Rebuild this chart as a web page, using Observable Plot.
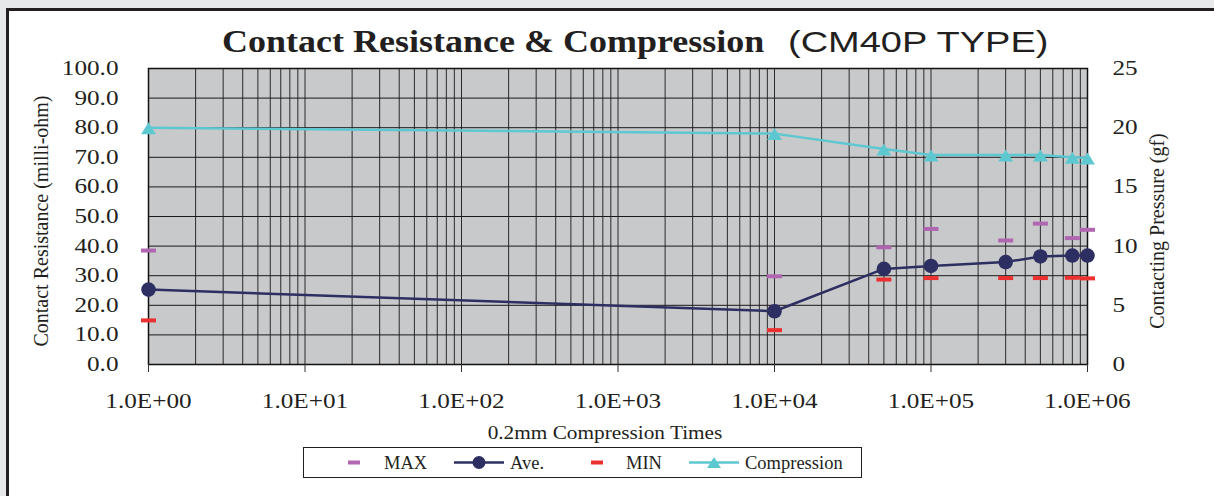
<!DOCTYPE html>
<html><head><meta charset="utf-8">
<script src="https://cdn.jsdelivr.net/npm/d3@7"></script>
<script src="https://cdn.jsdelivr.net/npm/@observablehq/plot@0.6"></script>
<style>
html,body{margin:0;padding:0;background:#e7e8e9;width:1214px;height:496px;overflow:hidden;position:relative;}
#panel{position:absolute;left:6px;top:8px;width:1220px;height:500px;background:#fff;border-left:3px solid #231f20;border-top:3px solid #231f20;}
#chart{position:absolute;left:0;top:0;}
.t{position:absolute;white-space:nowrap;color:#231f20;line-height:1;font-family:"Liberation Serif","Times New Roman",serif;}
#legend{position:absolute;left:303px;top:447px;width:557px;height:29px;border:1.5px solid #231f20;background:#fff;}
</style></head><body>
<div id="panel"></div>
<div id="chart"></div>
<div class="t" id="title1" style="left:222px;top:25px;font-size:32px;font-weight:bold;transform-origin:0 0;">Contact Resistance &amp; Compression</div>
<div class="t" id="title2" style="left:788px;top:28px;font-size:29px;font-family:'Liberation Sans',Arial,sans-serif;transform-origin:0 0;">(CM40P TYPE)</div>
<div class="t" id="ylab" style="left:41px;top:221px;font-size:20px;transform:translate(-50%,-50%) rotate(-90deg);">Contact Resistance (milli-ohm)</div>
<div class="t" id="ylab2" style="left:1157px;top:231px;font-size:20px;transform:translate(-50%,-50%) rotate(-90deg);">Contacting Pressure (gf)</div>
<div class="t" id="xlab" style="left:605px;top:423px;font-size:19px;transform:translateX(-50%) scaleX(1.12);">0.2mm Compression Times</div>
<div id="legend"></div>
<script>
// ---- data ----
const times = [1, 1e4, 5e4, 1e5, 3e5, 5e5, 8e5, 1e6];
const maxR = [38.5, 29.8, 39.6, 45.8, 41.9, 47.6, 42.7, 45.5];
const aveR = [25.3, 18.0, 32.3, 33.3, 34.6, 36.5, 36.8, 36.8];
const minR = [14.9, 11.6, 28.7, 29.2, 29.2, 29.2, 29.3, 29.1];
const compression = [20.0, 19.5, 18.2, 17.7, 17.7, 17.7, 17.5, 17.45];
const xTicks = [1, 10, 100, 1e3, 1e4, 1e5, 1e6];
const yTicksLeft = [0, 10, 20, 30, 40, 50, 60, 70, 80, 90, 100];
const yTicksRight = [0, 5, 10, 15, 20, 25];
const seriesNames = ["MAX", "Ave.", "MIN", "Compression"];
const colors = {MAX: "#b066b0", Ave: "#2d2f62", MIN: "#ec2f2f", Compression: "#5ec8d1"};

// right axis (0-25 gf) mapped onto left scale (0-100)
const rightFactor = 100 / 25;
const rows = times.map((t, i) => ({t, max: maxR[i], ave: aveR[i], min: minR[i], comp: compression[i] * rightFactor}));
const gridX = xTicks.slice(0, -1).flatMap(d => d3.range(1, 10).map(k => k * d)).concat([xTicks[xTicks.length - 1]]);

const dash = {draw(ctx) { ctx.rect(-7.5, -2, 15, 4); }};
const tri = {draw(ctx) { ctx.moveTo(0, -5.5); ctx.lineTo(7.5, 6.5); ctx.lineTo(-7.5, 6.5); ctx.closePath(); }};

const fmtE = d => "1.0E+" + String(Math.round(Math.log10(d))).padStart(2, "0");

const plot = Plot.plot({
  width: 1214, height: 496,
  marginLeft: 148, marginRight: 127, marginTop: 68, marginBottom: 132,
  style: {background: "transparent", fontFamily: "'Liberation Serif','Times New Roman',serif", fontSize: "20px", color: "#231f20"},
  x: {type: "log", domain: [1, 1e6]},
  y: {domain: [0, 100]},
  marks: [
    Plot.frame({fill: "#c8c9cb"}),
    Plot.ruleX(gridX, {stroke: "#2a2a2a", strokeWidth: 1}),
    Plot.ruleY(yTicksLeft, {stroke: "#1a1a1a", strokeWidth: 1}),
    Plot.frame({stroke: "#111", strokeWidth: 1.5}),
    Plot.axisX(xTicks, {tickSize: 8, tickPadding: 21, tickFormat: fmtE, label: null, stroke: "#333"}),
    Plot.axisY(yTicksLeft, {anchor: "left", tickSize: 0, tickPadding: 30, tickFormat: d3.format(".1f"), label: null}),
    Plot.axisY(yTicksRight.map(v => v * rightFactor), {anchor: "right", tickSize: 0, tickPadding: 25, tickFormat: d => d / rightFactor, label: null}),
    Plot.dot(rows, {x: "t", y: "max", symbol: dash, fill: colors.MAX, stroke: null}),
    Plot.line(rows, {x: "t", y: "ave", stroke: colors.Ave, strokeWidth: 2.5}),
    Plot.dot(rows, {x: "t", y: "ave", r: 7.3, fill: colors.Ave, stroke: null}),
    Plot.dot(rows, {x: "t", y: "min", symbol: dash, fill: colors.MIN, stroke: null}),
    Plot.line(rows, {x: "t", y: "comp", stroke: colors.Compression, strokeWidth: 2.5}),
    Plot.dot(rows, {x: "t", y: "comp", symbol: tri, fill: colors.Compression, stroke: null})
  ]
});
document.getElementById("chart").appendChild(plot);

// horizontal stretch of tick labels (reference type is widened)
plot.querySelectorAll("g[aria-label$='tick label'] text").forEach(el => {
  const tr = el.getAttribute("transform") || "";
  const x = +(el.getAttribute("x") || 0);
  el.setAttribute("transform", `${tr} translate(${x},0) scale(1.26,1) translate(${-x},0)`);
});
document.getElementById("title1").style.transform = "scaleX(1.125)";
document.getElementById("title2").style.transform = "scaleX(1.31)";

// legend
const lg = d3.select("#legend").append("svg").attr("width", 557).attr("height", 29)
  .style("font-family", "'Liberation Serif','Times New Roman',serif").style("font-size", "18.5px");
const cy = 14.5;
const items = [
  {name: seriesNames[0], color: colors.MAX, kind: "dash", sx: 44, tx: 80},
  {name: seriesNames[1], color: colors.Ave, kind: "circle", sx: 150, tx: 206},
  {name: seriesNames[2], color: colors.MIN, kind: "dash", sx: 287, tx: 322},
  {name: seriesNames[3], color: colors.Compression, kind: "tri", sx: 385, tx: 441}
];
items.forEach(it => {
  if (it.kind === "dash") {
    lg.append("rect").attr("x", it.sx).attr("y", cy - 2).attr("width", 12).attr("height", 4).attr("fill", it.color);
  } else {
    lg.append("line").attr("x1", it.sx).attr("x2", it.sx + 50).attr("y1", cy).attr("y2", cy).attr("stroke", it.color).attr("stroke-width", 2.5);
    if (it.kind === "circle") lg.append("circle").attr("cx", it.sx + 25).attr("cy", cy).attr("r", 6.5).attr("fill", it.color);
    else lg.append("path").attr("d", `M${it.sx + 25},${cy - 5.5}L${it.sx + 32},${cy + 5.5}L${it.sx + 18},${cy + 5.5}Z`).attr("fill", it.color);
  }
  lg.append("text").attr("x", it.tx).attr("y", cy + 6.5).attr("fill", "#231f20").text(it.name);
});
</script>
</body></html>
